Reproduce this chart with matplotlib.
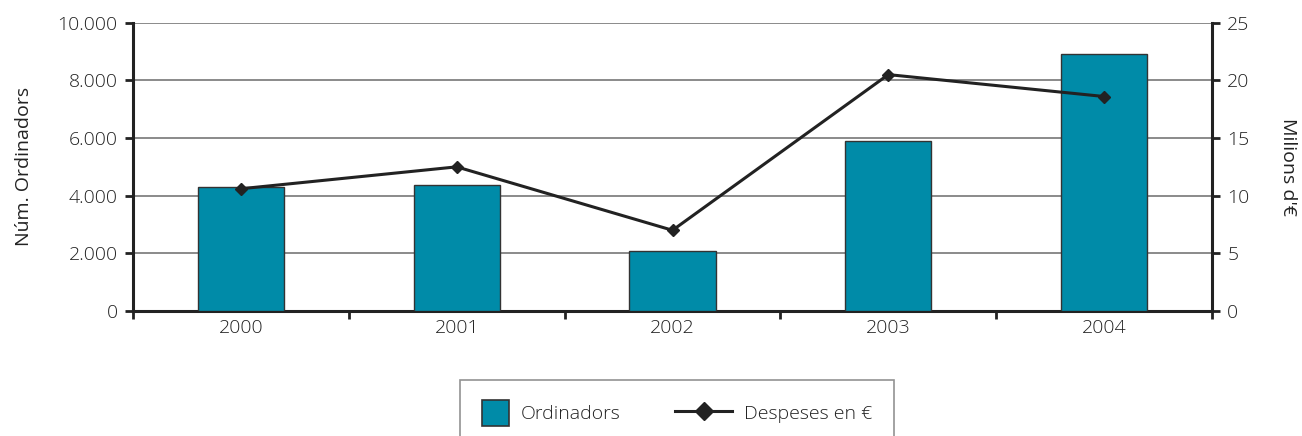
import matplotlib
matplotlib.use("Agg")
import matplotlib.pyplot as plt
from matplotlib.lines import Line2D
from matplotlib.patches import Patch, Rectangle
from matplotlib.legend_handler import HandlerPatch
from matplotlib.ticker import FuncFormatter, FixedLocator

years = ["2000", "2001", "2002", "2003", "2004"]
ordinadors = [4300, 4370, 2090, 5900, 8920]
despeses = [10.6, 12.5, 7.0, 20.5, 18.6]

plt.rcParams['font.family'] = ['Open Sans', 'DejaVu Sans']
plt.rcParams['font.weight'] = 'light'
txt = '#222222'
fs = 14

fig = plt.figure(figsize=(13.02, 4.36), dpi=100)
ax = fig.add_axes([133/1302, 1-311/436, (1212-133)/1302, (311-22.7)/436])
x = list(range(len(years)))
bar_color = '#008BA8'
ax.bar(x, ordinadors, width=0.40, color=bar_color, edgecolor='#333333', linewidth=1.0, zorder=3)
ax.set_xlim(-0.5, len(years)-0.5)
ax.set_ylim(0, 10000)
ax.set_yticks([0, 2000, 4000, 6000, 8000, 10000])
ax.yaxis.set_major_formatter(FuncFormatter(lambda v, p: f"{int(v):,}".replace(",", ".")))
ax.grid(axis='y', color='#777777', linewidth=1.2, zorder=0)
ax.set_xticks(x)
ax.set_xticklabels(years)
ax.xaxis.set_minor_locator(FixedLocator([i - 0.5 for i in range(len(years)+1)]))
ax.tick_params(axis='x', which='major', length=0, pad=6, labelsize=fs, labelcolor=txt)
ax.tick_params(axis='x', which='minor', length=6, width=2, direction='out', color='#222222')
ax.tick_params(axis='y', length=6, width=2, direction='out', labelsize=fs, labelcolor=txt, color='#222222', pad=5)
ax.spines['top'].set_visible(False)
ax.spines['right'].set_visible(False)
ax.spines['left'].set_linewidth(2.2)
ax.spines['bottom'].set_linewidth(2.2)
ax.spines['left'].set_color('#222222')
ax.spines['bottom'].set_color('#222222')
ax.set_ylabel("Núm. Ordinadors", fontsize=fs, color=txt, labelpad=18)

ax2 = ax.twinx()
ax2.plot(x, despeses, color='#222222', linewidth=2.2, marker='D', markersize=6, zorder=5)
ax2.set_ylim(0, 25)
ax2.set_yticks([0, 5, 10, 15, 20, 25])
ax2.tick_params(axis='y', length=6, width=2, direction='out', labelsize=fs, labelcolor=txt, color='#222222', pad=5)
for s in ['top', 'left', 'bottom']:
    ax2.spines[s].set_visible(False)
ax2.spines['right'].set_linewidth(2.2)
ax2.spines['right'].set_color('#222222')
ax2.set_ylabel("Milions d'€", fontsize=fs, color=txt, rotation=270, labelpad=34)


class SquareHandler(HandlerPatch):
    def create_artists(self, legend, orig_handle, xdescent, ydescent, width, height, fontsize, trans):
        side = height * 1.25
        r = Rectangle((-xdescent, -ydescent + (height - side) / 2), side, side,
                      facecolor=orig_handle.get_facecolor(), edgecolor=orig_handle.get_edgecolor(),
                      linewidth=orig_handle.get_linewidth(), transform=trans)
        return [r]


handles = [Patch(facecolor=bar_color, edgecolor='#333333', linewidth=1.2),
           Line2D([0], [0], color='#222222', linewidth=2.2, marker='D', markersize=9)]
leg = fig.legend(handles, ["Ordinadors", "Despeses en €"], loc='upper left',
                 bbox_to_anchor=(460/1302, 1-380/436), ncol=2, frameon=True,
                 fontsize=fs, handlelength=2.9, handleheight=1.3, columnspacing=1.3,
                 handletextpad=0.6, borderpad=1.15, borderaxespad=0,
                 fancybox=False, edgecolor='#777777', labelcolor=txt,
                 handler_map={Patch: SquareHandler()})
leg.get_frame().set_linewidth(1.2)
leg.texts[0].set_position((-30, 0))

fig.savefig("out.png", dpi=100)
